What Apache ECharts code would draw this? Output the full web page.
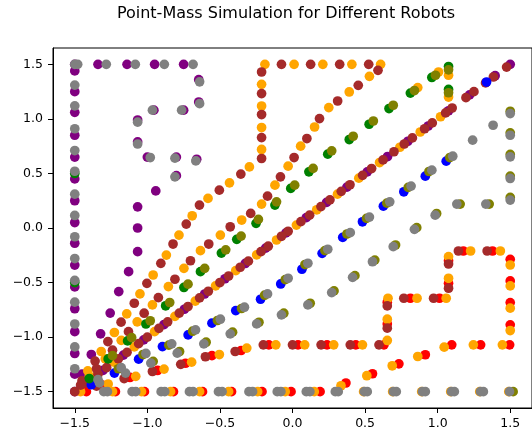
<!DOCTYPE html>
<html>
<head>
<meta charset="utf-8">
<script src="https://cdn.jsdelivr.net/npm/echarts@6/dist/echarts.min.js"></script>
<style>
  html, body { margin: 0; padding: 0; background: #ffffff; }
  #chart { width: 532px; height: 436px; }
</style>
</head>
<body>
<div id="chart"></div>
<script>
// Robot positions sampled along each simulated trajectory, one list per robot colour.
const purplePoints = [
  // left wall run
  [-1.5,-1.5],[-1.5,-1.34],[-1.5,-1.15],[-1.5,-0.95],[-1.5,-0.74],[-1.5,-0.54],[-1.5,-0.34],[-1.5,-0.14],
  [-1.5,0.05],[-1.5,0.25],[-1.5,0.45],[-1.5,0.65],[-1.5,0.85],[-1.5,1.06],[-1.5,1.25],[-1.5,1.44],[-1.5,1.5],
  // along the top
  [-1.34,1.5],[-1.14,1.5],[-0.95,1.5],[-0.75,1.5],
  // winding return
  [-0.646,1.36],[-0.646,1.155],[-0.75,1.08],[-0.955,1.08],[-1.067,0.99],[-1.067,0.79],[-1.0,0.65],[-0.8,0.65],
  [-0.66,0.63],[-0.8,0.48],[-0.942,0.34],[-1.067,0.194],[-1.067,0.0],[-1.067,-0.217],[-1.129,-0.40],
  [-1.197,-0.583],[-1.256,-0.78],[-1.322,-0.97],[-1.386,-1.16],[-1.45,-1.34],
  // corner-to-corner diagonal
  [1.5,1.5],[1.396,1.396],[1.22,1.22],[1.075,1.075],[0.935,0.935],[0.795,0.795],[0.655,0.655],[0.515,0.515],
  [0.375,0.375],[0.235,0.235],[0.095,0.095],[-0.045,-0.045],[-0.185,-0.185],[-0.325,-0.325],[-0.465,-0.465],
  [-0.605,-0.605],[-0.745,-0.745],[-0.885,-0.885],[-1.025,-1.025],[-1.165,-1.165],[-1.305,-1.305],[-1.445,-1.445]
];

const redPoints = [
  // bottom run
  [-1.42,-1.5],[-1.22,-1.5],[-1.02,-1.5],[-0.82,-1.5],[-0.62,-1.5],[-0.42,-1.5],[-0.21,-1.5],[-0.01,-1.5],[0.19,-1.5],
  // rising leg
  [0.368,-1.421],[0.551,-1.336],[0.733,-1.245],[0.915,-1.162],[1.097,-1.071],[1.296,-1.071],[1.496,-1.071],
  // right wall
  [1.5,-0.888],[1.5,-0.684],[1.5,-0.485],[1.5,-0.287],
  // stepped corridor
  [1.378,-0.211],[1.177,-0.211],[1.075,-0.30],[1.075,-0.507],[1.013,-0.644],[0.812,-0.644],
  [0.653,-0.68],[0.653,-0.879],[0.63,-1.071],[0.436,-1.071],[0.238,-1.071],[0.038,-1.071],[-0.163,-1.071],
  [-0.354,-1.123],[-0.555,-1.17],[-0.737,-1.24],[-0.93,-1.306],[-1.12,-1.37],[-1.31,-1.44]
];

const orangePoints = [
  // bottom run
  [-1.46,-1.5],[-1.24,-1.5],[-1.04,-1.5],[-0.84,-1.5],[-0.64,-1.5],[-0.44,-1.5],[-0.24,-1.5],[-0.05,-1.5],[0.15,-1.5],
  [0.49,-1.5],[0.69,-1.5],[0.89,-1.5],[1.09,-1.5],[1.29,-1.5],[1.49,-1.5],
  // rising leg
  [0.334,-1.446],[0.512,-1.354],[0.687,-1.263],[0.863,-1.178],[1.045,-1.092],[1.246,-1.071],[1.446,-1.071],
  // right wall
  [1.5,-0.94],[1.5,-0.735],[1.5,-0.531],[1.5,-0.339],
  // stepped corridor
  [1.432,-0.211],[1.227,-0.211],[1.075,-0.263],[1.075,-0.461],[1.059,-0.644],[0.858,-0.644],[0.658,-0.644],
  [0.653,-0.836],[0.653,-1.031],[0.482,-1.071],[0.284,-1.071],[0.084,-1.071],[-0.115,-1.071],
  [-0.315,-1.101],[-0.504,-1.16],[-0.695,-1.23],[-0.885,-1.293],[-1.08,-1.36],[-1.27,-1.43],
  // corner-to-corner diagonal
  [1.02,1.02],[0.88,0.88],[0.74,0.74],[0.60,0.60],[0.457,0.457],[0.31,0.31],[0.167,0.167],[0.027,0.027],
  [-0.11,-0.11],[-0.247,-0.247],[-0.391,-0.391],[-0.53,-0.53],[-0.67,-0.67],[-0.81,-0.81],[-0.95,-0.95],
  [-1.09,-1.09],[-1.23,-1.23],[-1.37,-1.37],
  // steep outer path
  [-1.41,-1.31],[-1.318,-1.132],[-1.227,-0.958],[-1.142,-0.787],[-1.051,-0.604],[-0.96,-0.431],[-0.869,-0.248],
  [-0.782,-0.065],[-0.691,0.112],[-0.582,0.271],[-0.434,0.414],[-0.297,0.56],
  [-0.213,0.72],[-0.213,0.921],[-0.213,1.118],[-0.213,1.317],
  [-0.19,1.5],[0.011,1.5],[0.209,1.5],[0.409,1.5],[0.607,1.5],
  // return path
  [0.53,1.39],[0.391,1.247],[0.25,1.104],[0.152,0.926],[0.056,0.75],[-0.03,0.567],[-0.121,0.393],[-0.213,0.219],
  [-0.35,0.073],[-0.497,-0.065],[-0.634,-0.208],[-0.748,-0.37],[-0.855,-0.537],[-0.965,-0.705],[-1.07,-0.86],
  [-1.18,-1.03],[-1.29,-1.2],[-1.4,-1.36],
  // near the upper goal
  [0.863,1.287],[1.006,1.43],[1.075,1.4],[1.075,1.2]
];

const brownPoints = [
  // corner-to-corner diagonal
  [1.475,1.475],[1.384,1.384],[1.33,1.33],[1.25,1.25],[1.195,1.195],[1.1,1.1],[1.055,1.055],[0.963,0.963],
  [0.91,0.91],[0.826,0.826],[0.77,0.77],[0.699,0.699],[0.624,0.624],[0.545,0.545],[0.483,0.483],[0.396,0.396],
  [0.336,0.336],[0.258,0.258],[0.196,0.196],[0.118,0.118],[0.058,0.058],[-0.03,-0.03],[-0.076,-0.076],
  [-0.167,-0.167],[-0.217,-0.217],[-0.304,-0.304],[-0.36,-0.36],[-0.44,-0.44],[-0.5,-0.5],[-0.58,-0.58],
  [-0.64,-0.64],[-0.72,-0.72],[-0.78,-0.78],[-0.86,-0.86],[-0.92,-0.92],[-1.0,-1.0],[-1.06,-1.06],
  [-1.14,-1.14],[-1.2,-1.2],[-1.28,-1.28],[-1.34,-1.34],[-1.42,-1.42],[-1.5,-1.5],
  // steep outer path
  [-1.45,-1.4],[-1.36,-1.22],[-1.272,-1.041],[-1.181,-0.863],[-1.09,-0.69],[-1.003,-0.507],[-0.907,-0.324],
  [-0.823,-0.147],[-0.732,0.036],[-0.641,0.21],[-0.504,0.347],[-0.356,0.494],
  [-0.213,0.637],[-0.213,0.829],[-0.213,1.04],[-0.213,1.232],[-0.213,1.43],
  [-0.076,1.5],[0.125,1.5],[0.325,1.5],[0.525,1.5],
  // return path
  [0.589,1.445],[0.453,1.308],[0.311,1.164],[0.186,1.003],[0.099,0.82],[0.011,0.646],[-0.083,0.469],
  [-0.172,0.292],[-0.288,0.134],[-0.429,0.011],[-0.577,-0.147],[-0.703,-0.3],[-0.81,-0.47],[-0.924,-0.638],
  [-1.022,-0.781],[-1.13,-0.95],[-1.24,-1.12],[-1.35,-1.29],[-1.46,-1.44],
  // stepped corridor
  [1.341,-0.211],[1.143,-0.211],[1.075,-0.33],[1.075,-0.552],[0.972,-0.644],[0.767,-0.644],
  [0.653,-0.714],[0.653,-0.918],[0.596,-1.071],[0.398,-1.071],[0.197,-1.071],[0.0,-1.071],[-0.201,-1.071],
  [-0.395,-1.132],[-0.6,-1.18],[-0.77,-1.25],[-0.965,-1.315],[-1.16,-1.38],[-1.35,-1.45]
];

const bluePoints = [
  [-1.386,-1.437],[-1.227,-1.33],[-1.06,-1.202],[-0.896,-1.087],[-0.719,-0.98],[-0.555,-0.872],[-0.391,-0.757],
  [-0.22,-0.653],[-0.081,-0.513],[0.065,-0.378],[0.204,-0.232],[0.346,-0.086],[0.482,0.057],[0.626,0.2],
  [0.767,0.332],[0.915,0.475],[1.059,0.613],
  [1.337,1.338]
];

const greenPoints = [
  [-1.5,-0.5],[-1.5,0.5],
  [-1.4,-1.38],[-1.27,-1.2],[-1.136,-1.035],[-1.01,-0.88],[-0.874,-0.713],[-0.748,-0.545],[-0.634,-0.40],
  [-0.49,-0.23],[-0.384,-0.104],[-0.251,0.043],[-0.121,0.21],[-0.012,0.363],[0.113,0.515],[0.243,0.677],
  [0.391,0.811],[0.528,0.951],[0.665,1.095],[0.812,1.237],[0.96,1.38],[1.075,1.48],[1.075,1.27]
];

const olivePoints = [
  // alongside green
  [-1.24,-1.17],[-1.108,-1.005],[-0.98,-0.85],[-0.846,-0.683],[-0.72,-0.515],[-0.605,-0.37],[-0.46,-0.2],
  [-0.354,-0.074],[-0.235,0.079],[-0.11,0.24],[0.015,0.393],[0.142,0.546],[0.27,0.707],[0.418,0.841],
  [0.557,0.981],[0.694,1.125],[0.84,1.26],[0.985,1.40],[1.075,1.45],[1.075,1.24],
  // alongside blue
  [-1.2,-1.29],[-1.03,-1.16],[-0.852,-1.074],[-0.688,-0.946],[-0.517,-0.848],[-0.351,-0.738],[-0.192,-0.616],
  [-0.05,-0.473],[0.086,-0.335],[0.223,-0.207],[0.375,-0.055],[0.51,0.088],[0.65,0.228],[0.797,0.372],
  [0.94,0.518],[1.084,0.646],
  // loop on the right
  [1.5,0.28],[1.5,0.476],[1.5,0.674],[1.5,0.872],[1.5,1.07],[1.355,0.219],[1.155,0.219],[0.993,0.133],
  [0.856,0.003],[0.71,-0.156],[0.567,-0.294],[0.43,-0.437],[0.286,-0.577],[0.122,-0.69],[-0.06,-0.781],
  [-0.231,-0.864],[-0.413,-0.955],[-0.595,-1.047],[-0.778,-1.132],[-0.96,-1.223],
  [1.52,-1.5]
];

const grayPoints = [
  // left wall run
  [-1.5,-1.29],[-1.5,-1.09],[-1.5,-0.88],[-1.5,-0.68],[-1.5,-0.48],[-1.5,-0.28],[-1.5,-0.08],[-1.5,0.115],
  [-1.5,0.31],[-1.5,0.52],[-1.5,0.71],[-1.5,0.91],[-1.5,1.12],[-1.5,1.31],[-1.5,1.5],
  // along the top
  [-1.48,1.5],[-1.283,1.5],[-1.083,1.5],[-0.883,1.5],[-0.685,1.5],
  // winding return
  [-0.64,1.34],[-0.64,1.14],[-0.764,1.08],[-0.965,1.08],[-1.067,0.97],[-1.067,0.77],[-0.98,0.646],
  [-0.81,0.64],[-0.666,0.615],[-0.81,0.469],
  // bottom run
  [-1.3,-1.5],[-1.275,-1.5],[-1.105,-1.5],[-1.08,-1.5],[-0.905,-1.5],[-0.88,-1.5],[-0.71,-1.5],[-0.685,-1.5],
  [-0.51,-1.5],[-0.485,-1.5],[-0.3,-1.5],[-0.275,-1.5],[-0.105,-1.5],[-0.08,-1.5],[0.095,-1.5],[0.12,-1.5],
  [0.295,-1.5],[0.315,-1.5],[0.495,-1.5],[0.515,-1.5],[0.695,-1.5],[0.715,-1.5],[0.895,-1.5],[0.915,-1.5],
  [1.095,-1.5],[1.115,-1.5],[1.295,-1.5],[1.315,-1.5],[1.495,-1.5],
  // alongside blue
  [-1.34,-1.39],[-1.18,-1.28],[-1.01,-1.15],[-0.832,-1.062],[-0.668,-0.934],[-0.497,-0.836],[-0.331,-0.726],
  [-0.172,-0.604],[-0.03,-0.461],[0.106,-0.323],[0.243,-0.195],[0.398,-0.043],[0.53,0.1],[0.67,0.24],
  [0.817,0.384],[0.96,0.53],[1.104,0.658],[1.241,0.805],[1.382,0.942],
  // loop on the right
  [1.5,1.049],[1.5,0.85],[1.5,0.652],[1.5,0.454],[1.5,0.256],[1.332,0.219],[1.132,0.219],[0.983,0.118],
  [0.84,-0.012],[0.694,-0.171],[0.551,-0.309],[0.414,-0.452],[0.27,-0.592],[0.106,-0.705],[-0.076,-0.796],
  [-0.247,-0.879],[-0.429,-0.97],[-0.611,-1.062],[-0.794,-1.147],[-0.976,-1.238],[-1.15,-1.33],[-1.33,-1.42]
];

const xTicks = [-1.5, -1.0, -0.5, 0.0, 0.5, 1.0, 1.5];
const yTicks = [-1.5, -1.0, -0.5, 0.0, 0.5, 1.0, 1.5];
const titleText = 'Point-Mass Simulation for Different Robots';

const robots = [
  { name: 'purple', color: '#800080', data: purplePoints },
  { name: 'red',    color: '#ff0000', data: redPoints },
  { name: 'orange', color: '#ffa500', data: orangePoints },
  { name: 'brown',  color: '#a52a2a', data: brownPoints },
  { name: 'blue',   color: '#0000ff', data: bluePoints },
  { name: 'green',  color: '#008000', data: greenPoints },
  { name: 'olive',  color: '#808000', data: olivePoints },
  { name: 'gray',   color: '#808080', data: grayPoints }
];

const fmt = v => (v < 0 ? '\u2212' : '') + Math.abs(v).toFixed(1);
const font = 'DejaVu Sans';

const chart = echarts.init(document.getElementById('chart'), null, { renderer: 'canvas' });
chart.setOption({
  animation: false,
  backgroundColor: '#ffffff',
  title: {
    text: titleText,
    left: 281,
    textAlign: 'center',
    top: 1,
    textStyle: { fontFamily: font, fontSize: 16, fontWeight: 'normal', color: '#000' }
  },
  grid: {
    left: 53, top: 48, width: 483, height: 360,
    show: true, borderColor: '#000', borderWidth: 1, backgroundColor: 'transparent'
  },
  xAxis: {
    type: 'value', min: -1.65, max: 1.65,
    axisLine: { show: true, onZero: false, lineStyle: { color: '#000', width: 1 } },
    axisTick: { show: true, length: 5, inside: false, customValues: xTicks, lineStyle: { color: '#000' } },
    axisLabel: { customValues: xTicks, formatter: fmt, margin: 9, fontFamily: font, fontSize: 12.5, color: '#000' },
    splitLine: { show: false }
  },
  yAxis: {
    type: 'value', min: -1.65, max: 1.65,
    axisLine: { show: true, onZero: false, lineStyle: { color: '#000', width: 1 } },
    axisTick: { show: true, length: 5, inside: false, customValues: yTicks, lineStyle: { color: '#000' } },
    axisLabel: { customValues: yTicks, formatter: fmt, margin: 10, fontFamily: font, fontSize: 12.5, color: '#000' },
    splitLine: { show: false }
  },
  series: robots.map(r => ({
    name: r.name,
    type: 'scatter',
    data: r.data,
    symbol: 'circle',
    symbolSize: 9.7,
    silent: true,
    itemStyle: { color: r.color, opacity: 1 },
    emphasis: { disabled: true }
  }))
});
</script>
</body>
</html>
